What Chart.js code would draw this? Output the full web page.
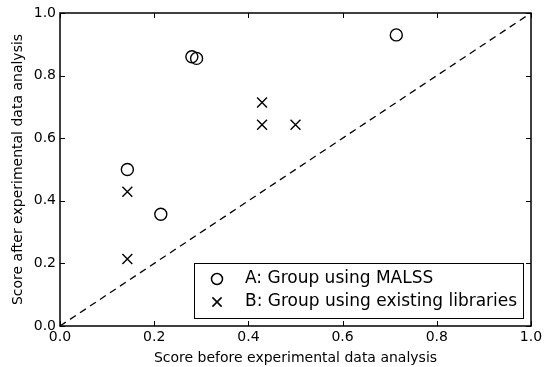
<!DOCTYPE html>
<html>
<head>
<meta charset="utf-8">
<script src="https://cdn.jsdelivr.net/npm/chart.js@4/dist/chart.umd.min.js"></script>
<style>
  html, body { margin: 0; padding: 0; background: #fff; }
  #wrap { width: 550px; height: 367px; }
</style>
</head>
<body>
<div id="wrap"><canvas id="chart"></canvas></div>
<script>
// values
const groupA_x = [0.143, 0.214, 0.28, 0.29, 0.714];
const groupA_y = [0.5, 0.357, 0.86, 0.855, 0.93];
const groupB_x = [0.143, 0.143, 0.429, 0.429, 0.5];
const groupB_y = [0.429, 0.214, 0.714, 0.643, 0.643];
const diagonal_x = [0, 1];
const diagonal_y = [0, 1];
const tickValues = [0, 0.2, 0.4, 0.6, 0.8, 1.0];

const FONT = "'DejaVu Sans', sans-serif";

const toPoints = (xs, ys) => xs.map((x, i) => ({x: x, y: ys[i]}));

// matplotlib style ticks pointing inwards on all four sides
const innerTicks = {
    id: 'innerTicks',
    afterDraw(chart) {
        const {ctx, chartArea: a, scales} = chart;
        ctx.save();
        ctx.strokeStyle = '#000';
        ctx.lineWidth = 1;
        ctx.beginPath();
        tickValues.forEach(v => {
            const px = Math.round(scales.x.getPixelForValue(v)) + 0.5;
            ctx.moveTo(px, a.bottom); ctx.lineTo(px, a.bottom - 5);
            ctx.moveTo(px, a.top); ctx.lineTo(px, a.top + 5);
            const py = Math.round(scales.y.getPixelForValue(v)) + 0.5;
            ctx.moveTo(a.left, py); ctx.lineTo(a.left + 5, py);
            ctx.moveTo(a.right, py); ctx.lineTo(a.right - 5, py);
        });
        ctx.stroke();
        ctx.lineWidth = 1.5;
        ctx.strokeRect(a.left, a.top, a.right - a.left, a.bottom - a.top);
        ctx.restore();
    }
};

// boxed legend in the lower right of the plot
const boxLegend = {
    id: 'boxLegend',
    afterDraw(chart) {
        const {ctx, chartArea: a} = chart;
        const sets = chart.data.datasets.filter(d => d.showInLegend);
        const w = 329, rowH = 23, h = 55;
        const x0 = a.right - 8 - w, y0 = a.bottom - 8 - h;
        ctx.save();
        ctx.fillStyle = '#fff';
        ctx.fillRect(x0, y0, w, h);
        ctx.strokeStyle = '#000';
        ctx.lineWidth = 1;
        ctx.strokeRect(x0 + 0.5, y0 + 0.5, w, h);
        ctx.font = '17px ' + FONT;
        ctx.textBaseline = 'middle';
        sets.forEach((d, i) => {
            const cy = y0 + 16 + i * rowH;
            ctx.fillStyle = 'rgba(0,0,0,0)';
            ctx.strokeStyle = '#000';
            ctx.lineWidth = 1.5;
            Chart.helpers.drawPoint(ctx, {
                pointStyle: d.pointStyle,
                radius: d.pointRadius - 0.5,
                borderWidth: 1.5
            }, x0 + 23, cy);
            ctx.fillStyle = '#000';
            ctx.fillText(d.label, x0 + 51, cy);
        });
        ctx.restore();
    }
};

new Chart(document.getElementById('chart'), {
    type: 'scatter',
    data: {
        datasets: [
            {
                label: 'diagonal',
                type: 'line',
                data: toPoints(diagonal_x, diagonal_y),
                borderColor: '#000',
                borderWidth: 1.3,
                borderDash: [7, 5],
                pointRadius: 0,
                fill: false
            },
            {
                label: 'A: Group using MALSS',
                data: toPoints(groupA_x, groupA_y),
                pointStyle: 'circle',
                pointRadius: 6,
                borderWidth: 1.4,
                borderColor: '#000',
                backgroundColor: 'rgba(0,0,0,0)',
                showInLegend: true
            },
            {
                label: 'B: Group using existing libraries',
                data: toPoints(groupB_x, groupB_y),
                pointStyle: 'crossRot',
                pointRadius: 7,
                borderWidth: 1.4,
                borderColor: '#000',
                backgroundColor: 'rgba(0,0,0,0)',
                showInLegend: true
            }
        ]
    },
    options: {
        responsive: true,
        maintainAspectRatio: false,
        animation: false,
        layout: { padding: { top: 13, right: 19 } },
        plugins: {
            legend: { display: false },
            tooltip: { enabled: false }
        },
        scales: {
            x: {
                type: 'linear',
                min: 0, max: 1,
                grid: { display: false, drawTicks: false },
                border: { display: false },
                afterBuildTicks: s => { s.ticks = tickValues.map(v => ({value: v})); },
                afterFit: s => { s.height = 41; },
                ticks: {
                    color: '#000',
                    padding: 3,
                    font: { family: FONT, size: 14 },
                    callback: v => v.toFixed(1)
                },
                title: {
                    display: true,
                    text: 'Score before experimental data analysis',
                    color: '#000',
                    font: { family: FONT, size: 14 },
                    padding: { top: 0, bottom: 0 }
                }
            },
            y: {
                type: 'linear',
                min: 0, max: 1,
                grid: { display: false, drawTicks: false },
                border: { display: false },
                afterBuildTicks: s => { s.ticks = tickValues.map(v => ({value: v})); },
                afterFit: s => { s.width = 60; },
                ticks: {
                    color: '#000',
                    padding: 4,
                    font: { family: FONT, size: 14 },
                    callback: v => v.toFixed(1)
                },
                title: {
                    display: true,
                    text: 'Score after experimental data analysis',
                    color: '#000',
                    font: { family: FONT, size: 14 },
                    padding: { top: 10, bottom: 0 }
                }
            }
        }
    },
    plugins: [innerTicks, boxLegend]
});
</script>
</body>
</html>
